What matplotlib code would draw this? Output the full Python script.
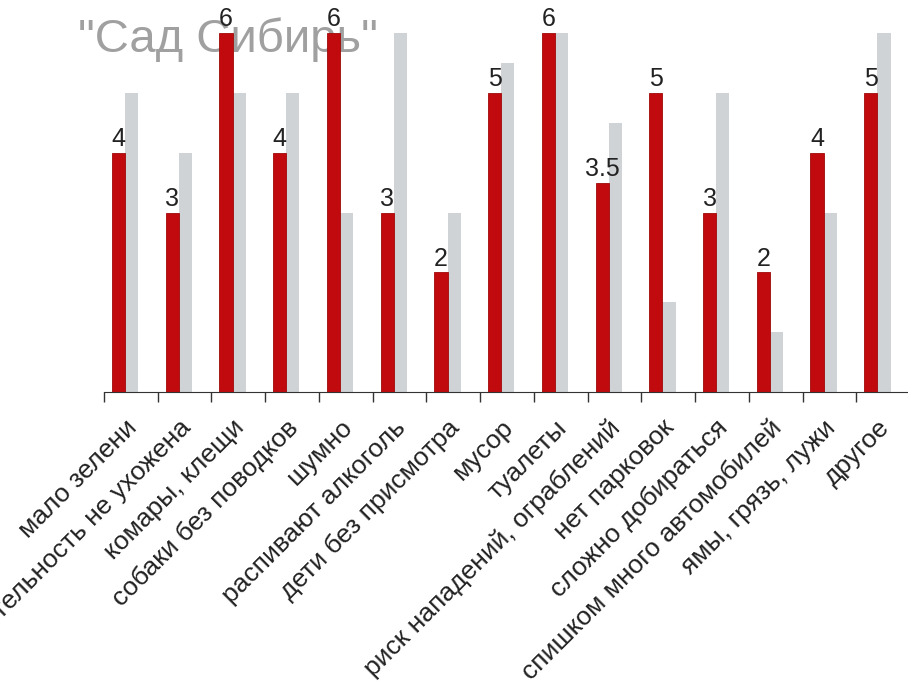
import numpy as np
import matplotlib
matplotlib.use("Agg")
import matplotlib.pyplot as plt

plt.rcParams['font.family'] = ['Liberation Sans', 'DejaVu Sans']

categories = ['мало зелени', 'растительность не ухожена', 'комары, клещи',
              'собаки без поводков', 'шумно', 'распивают алкоголь',
              'дети без присмотра', 'мусор', 'туалеты',
              'риск нападений, ограблений', 'нет парковок', 'сложно добираться',
              'спишком много автомобилей', 'ямы, грязь, лужи', 'другое']
red_values = [4, 3, 6, 4, 6, 3, 2, 5, 6, 3.5, 5, 3, 2, 4, 5]
grey_values = [5, 4, 5, 5, 3, 6, 3, 5.5, 6, 4.5, 1.5, 5, 1, 3, 6]
value_labels = ['4', '3', '6', '4', '6', '3', '2', '5', '6', '3.5', '5', '3', '2', '4', '5']

fig = plt.figure(figsize=(9.08, 6.83), dpi=100)
ax = fig.add_axes([104 / 908, 1 - 392 / 683, 806 / 908, (392 - 33) / 683])

n = len(categories)
edges = np.arange(n)
w = 0.245
red_x = edges + 0.148
grey_x = edges + 0.393

ax.bar(red_x, red_values, w, align='edge', color='#C00A0E', edgecolor='#A00808',
       linewidth=0.6, zorder=2)
ax.bar(grey_x, grey_values, w, align='edge', color='#D0D3D6', linewidth=0, zorder=1)

for x, v, s in zip(red_x, red_values, value_labels):
    ax.text(x + w / 2, v + 0.03, s, ha='center', va='bottom', fontsize=18,
            color='#222222', clip_on=False, zorder=4)

ax.set_xlim(0, n)
ax.set_ylim(0, 6)

# tick marks at band edges, labels under bars
ax.set_xticks(edges, minor=True)
ax.tick_params(axis='x', which='minor', length=7, width=1, color='#333333')
ax.set_xticks(edges + 0.7)
ax.set_xticklabels(categories, rotation=45, ha='right', fontsize=19, color='#222222')
ax.tick_params(axis='x', which='major', length=0, pad=17)
ax.set_yticks([])

for side in ['left', 'right', 'top']:
    ax.spines[side].set_visible(False)
ax.spines['bottom'].set_color('#333333')

ax.text(228 / 908, 1 - 40 / 683, '"Сад Сибирь"', transform=fig.transFigure,
        ha='center', va='center', fontsize=34, color='#A0A0A0', zorder=0,
        clip_on=False)

fig.savefig('out.png', dpi=100)
